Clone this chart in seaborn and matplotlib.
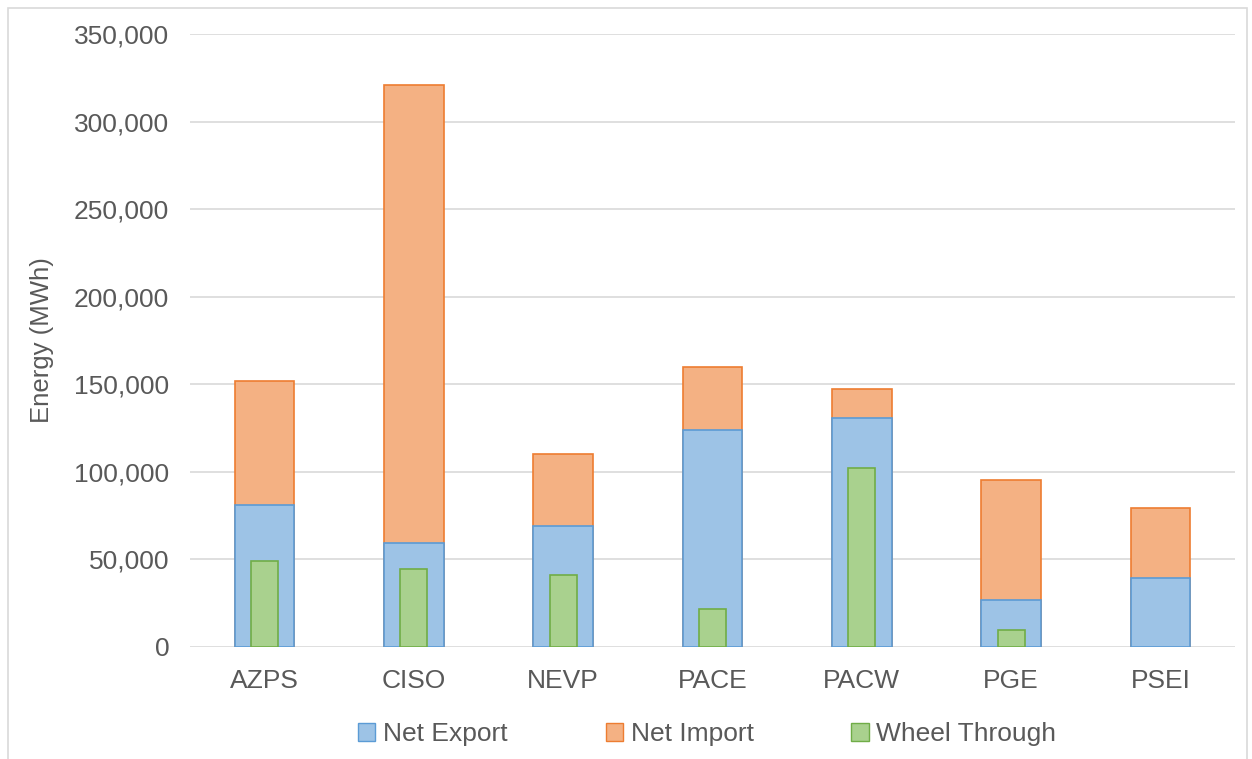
import matplotlib
matplotlib.use("Agg")
import matplotlib.pyplot as plt
from matplotlib.patches import Patch, Rectangle
from matplotlib.ticker import FuncFormatter
import numpy as np
import pandas as pd
import seaborn as sns

# values (MWh)
regions = ["AZPS", "CISO", "NEVP", "PACE", "PACW", "PGE", "PSEI"]
net_export = [81200, 59500, 69100, 124000, 130900, 26800, 39400]
net_import = [70600, 261100, 41200, 36000, 16400, 68700, 39900]
wheel_through = [49300, 44300, 40900, 21500, 102200, 9900, 0]

sns.set_theme(style="white")
plt.rcParams["font.family"] = ["Liberation Sans", "DejaVu Sans"]

text_col = "#595959"

df = pd.DataFrame({
    "region": regions,
    "export": net_export,
    "total": np.array(net_export) + np.array(net_import),
    "wheel": [w if w > 0 else np.nan for w in wheel_through],
})

fig, ax = plt.subplots(figsize=(12.52, 7.59), dpi=100)
fig.subplots_adjust(left=190 / 1252, right=1235 / 1252, top=1 - 34 / 759, bottom=1 - 647 / 759)

# stacked: total (import on top) first, then export over it
sns.barplot(data=df, x="region", y="total", order=regions, width=0.4,
            color="#f4b183", edgecolor="#ed7d31", linewidth=1.2, saturation=1, ax=ax)
sns.barplot(data=df, x="region", y="export", order=regions, width=0.4,
            color="#9dc3e6", edgecolor="#5b9bd5", linewidth=1.2, saturation=1, ax=ax)
sns.barplot(data=df, x="region", y="wheel", order=regions, width=0.18,
            color="#a9d18e", edgecolor="#70ad47", linewidth=1.2, saturation=1, ax=ax)

ax.set_xlim(-0.5, len(regions) - 0.5)
ax.set_ylim(0, 350000)
ax.set_yticks(np.arange(0, 350001, 50000))
ax.yaxis.set_major_formatter(FuncFormatter(lambda v, p: f"{int(v):,}"))
ax.grid(axis="y", color="#d9d9d9", linewidth=1.2)
ax.set_axisbelow(True)
sns.despine(ax=ax, left=True, bottom=True)

ax.tick_params(axis="both", length=0, labelsize=19, labelcolor=text_col)
ax.tick_params(axis="x", pad=16)
ax.tick_params(axis="y", pad=15)
ax.set_xlabel("")
ax.set_ylabel("Energy (MWh)", fontsize=18.5, color=text_col, labelpad=14)

handles = [
    Patch(facecolor="#9dc3e6", edgecolor="#5b9bd5", label="Net Export"),
    Patch(facecolor="#f4b183", edgecolor="#ed7d31", label="Net Import"),
    Patch(facecolor="#a9d18e", edgecolor="#70ad47", label="Wheel Through"),
]
fig.legend(handles=handles, loc="center", bbox_to_anchor=(0.565, 1 - 734 / 759), ncol=3,
           frameon=False, fontsize=19, labelcolor=text_col, handlelength=0.65,
           handleheight=0.65, handletextpad=0.3, columnspacing=3.7)

# chart area border
fig.patches.append(Rectangle((8 / 1252, -0.05), (1247 - 8) / 1252, 1.05 - 8 / 759,
                             transform=fig.transFigure, fill=False,
                             edgecolor="#d9d9d9", linewidth=1.2))

fig.savefig("out.png", dpi=100)
